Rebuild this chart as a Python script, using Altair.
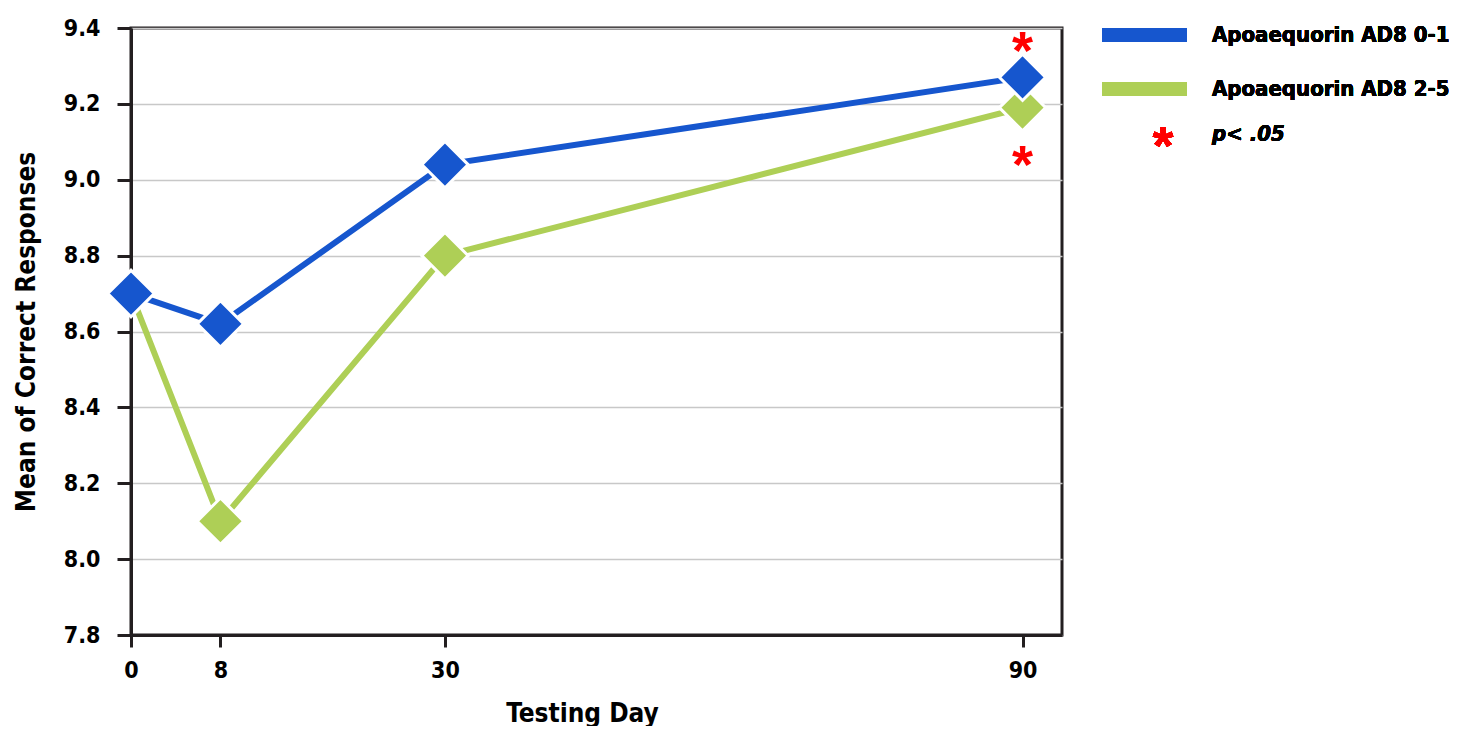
import altair as alt
import pandas as pd

days = [0, 8, 30, 90]
series_names = ["Apoaequorin AD8 0-1", "Apoaequorin AD8 2-5"]
ad8_low = [8.70, 8.62, 9.04, 9.27]
ad8_high = [8.70, 8.10, 8.80, 9.19]
sig_days = [90, 90]
sig_values = [9.365, 9.065]
sig_label = "p< .05"
y_ticks = [7.8, 8.0, 8.2, 8.4, 8.6, 8.8, 9.0, 9.2, 9.4]

BLUE = "#1656CE"
GREEN = "#AECF56"
RED = "#FF0000"
DARK = "#231F20"
FONT = "DejaVu Sans Condensed, Roboto, sans-serif"
AST_FONT = "Liberation Sans, Arial, sans-serif"

rows = []
for d, v in zip(days, ad8_low):
    rows.append({"day": d, "value": v, "series": series_names[0]})
for d, v in zip(days, ad8_high):
    rows.append({"day": d, "value": v, "series": series_names[1]})
df = pd.DataFrame(rows)
sig_df = pd.DataFrame({"day": sig_days, "value": sig_values, "mark": ["*", "*"]})

xscale = alt.Scale(type="pow", exponent=0.95, domain=[0, 94.2], nice=False, zero=False)
yscale = alt.Scale(domain=[7.8, 9.4], nice=False, zero=False)
cscale = alt.Scale(domain=series_names, range=[BLUE, GREEN])

xaxis = alt.Axis(values=days, format="d", title="Testing Day", grid=False,
                 labelFont=FONT, labelFontSize=23, labelFontWeight="bold", labelColor="black",
                 labelPadding=12, labelFlush=False, tickSize=12, tickWidth=3, tickColor=DARK,
                 domainWidth=3, domainColor=DARK,
                 titleFont=FONT, titleFontSize=26, titleFontWeight="bold", titleColor="black",
                 titleX=451, titleY=86, titleBaseline="alphabetic")
yaxis = alt.Axis(values=y_ticks, format=".1f", title="Mean of Correct Responses",
                 grid=True, gridColor="#C8C8C8", gridWidth=1.5,
                 labelFont=FONT, labelFontSize=23, labelFontWeight="bold", labelColor="black",
                 labelPadding=17, labelFlush=False, tickSize=14, tickWidth=3, tickColor=DARK,
                 domainWidth=3, domainColor=DARK,
                 titleFont=FONT, titleFontSize=26, titleFontWeight="bold", titleColor="black",
                 titlePadding=24)

base = alt.Chart(df)
enc_x = alt.X("day:Q", scale=xscale, axis=xaxis)
enc_y = alt.Y("value:Q", scale=yscale, axis=yaxis)
enc_c = alt.Color("series:N", scale=cscale, legend=None)

def line_layer(name):
    return base.transform_filter(alt.datum.series == name).mark_line(strokeWidth=6).encode(
        x=enc_x, y=enc_y, color=enc_c)

def point_layer(name):
    return base.transform_filter(alt.datum.series == name).mark_point(
        shape="diamond", filled=True, size=2150, stroke="white", strokeWidth=3, opacity=1
    ).encode(x=enc_x, y=enc_y, color=enc_c)

sig = alt.Chart(sig_df).mark_text(font=AST_FONT, fontSize=54, fontWeight="bold",
                                   color=RED, baseline="alphabetic", dy=28).encode(
    x=alt.X("day:Q", scale=xscale), y=alt.Y("value:Q", scale=yscale), text="mark:N")

# manual legend
leg_x0, leg_x1, txt_x = 971, 1056, 1081
leg_rows = [7, 61, 106]
legend_layers = []
for name, col, yy in zip(series_names, [BLUE, GREEN], leg_rows[:2]):
    legend_layers.append(alt.Chart(df).mark_rule(strokeWidth=14, color=col).encode(
        x=alt.value(leg_x0), x2=alt.value(leg_x1), y=alt.value(yy)))
    legend_layers.append(alt.Chart(df).mark_text(font=FONT, fontSize=22, fontWeight="bold",
                                                 align="left", baseline="middle", color="black").encode(
        x=alt.value(txt_x), y=alt.value(yy), text=alt.value(name)))
legend_layers.append(alt.Chart(df).mark_text(font=AST_FONT, fontSize=54, fontWeight="bold",
                                             align="center", baseline="alphabetic", dy=28, color=RED).encode(
    x=alt.value(1032), y=alt.value(leg_rows[2] + 2), text=alt.value("*")))
legend_layers.append(alt.Chart(df).mark_text(font=FONT, fontSize=22, fontWeight="bold", fontStyle="italic",
                                             align="left", baseline="middle", color="black").encode(
    x=alt.value(txt_x), y=alt.value(leg_rows[2]), text=alt.value(sig_label)))

chart = alt.layer(
    line_layer(series_names[1]), line_layer(series_names[0]),
    point_layer(series_names[1]), point_layer(series_names[0]),
    sig, *legend_layers
).properties(
    width=931, height=607,
    background="white",
    autosize=alt.AutoSizeParams(type="none"),
    padding={"left": 123, "top": 20, "right": 404, "bottom": 91},
).configure_view(stroke=DARK, strokeWidth=3)

chart.save("out.html", embed_options={"renderer": "svg", "actions": False})
